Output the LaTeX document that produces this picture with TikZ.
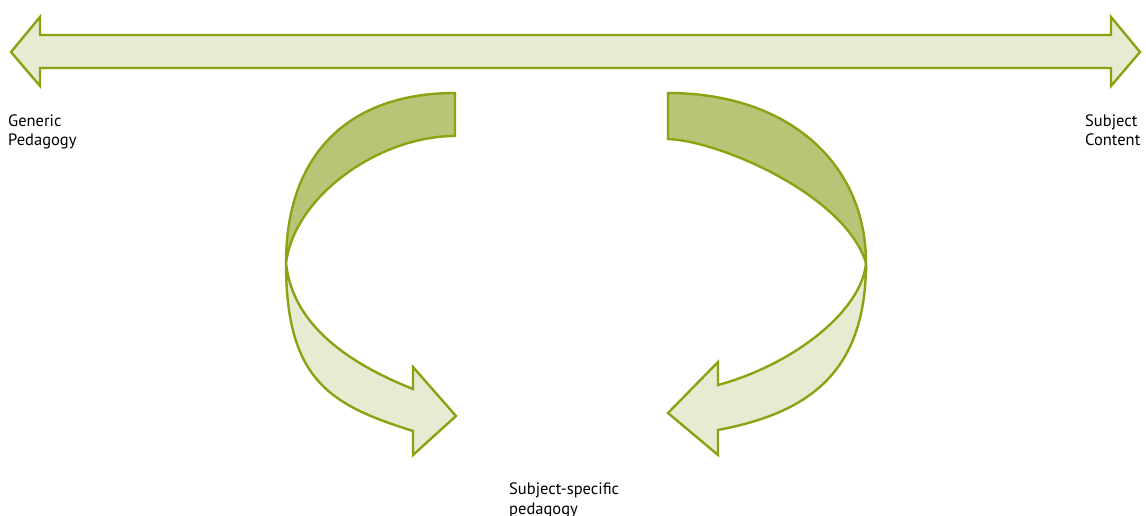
\documentclass[tikz,border=0pt]{standalone}
\usepackage{fontspec}
\setmainfont{PT Sans}
\usetikzlibrary{positioning}

\definecolor{leafline}{HTML}{8AA312}
\definecolor{leafdark}{HTML}{B8C576}
\definecolor{leaflight}{HTML}{E6EBD2}

\begin{document}
\begin{tikzpicture}[x=1pt, y=-1pt,
    ribbon/.style={draw=leafline, line width=2.4pt, line join=miter},
    backside/.style={ribbon, fill=leafdark},
    frontside/.style={ribbon, fill=leaflight},
    lbl/.style={font=\fontsize{16.5}{19.5}\selectfont, align=left, inner sep=0pt, anchor=base west}
]
\useasboundingbox (0,0) rectangle (1146,516);

% span arrow
\draw[frontside] (11,52) -- (40,17) -- (40,35) -- (1111,35) -- (1111,17) -- (1140,52)
      -- (1111,86) -- (1111,68) -- (40,68) -- (40,86) -- cycle;

\coordinate (lturn) at (286,263);
\coordinate (rturn) at (866,263);

% left turn
\draw[backside] (455,93) .. controls (350,93) and (286,153) .. (lturn)
      .. controls (295,195) and (380,136) .. (455,136) -- cycle;
\draw[frontside] (lturn) .. controls (286,380) and (330,405) .. (413,431) -- (413,455)
      -- (456,416) -- (413,367) -- (413,389) .. controls (340,360) and (292,320) .. (lturn) -- cycle;

% right turn
\draw[backside] (668,93) .. controls (788,93) and (866,163) .. (rturn)
      .. controls (845,195) and (720,141) .. (668,139) -- cycle;
\draw[frontside] (rturn) .. controls (866,373) and (808,413) .. (718,430) -- (718,455)
      -- (668,413) -- (718,362) -- (718,385) .. controls (795,364) and (862,310) .. (rturn) -- cycle;

% labels (anchored on the last line)
\node[lbl] (generic) at (8,146) {Generic\\Pedagogy};
\node[lbl] (content) at (1085,146) {Subject\\Content};
\node[lbl] (specific) at (509,514) {Subject-specific\\pedagogy};
\end{tikzpicture}
\end{document}
